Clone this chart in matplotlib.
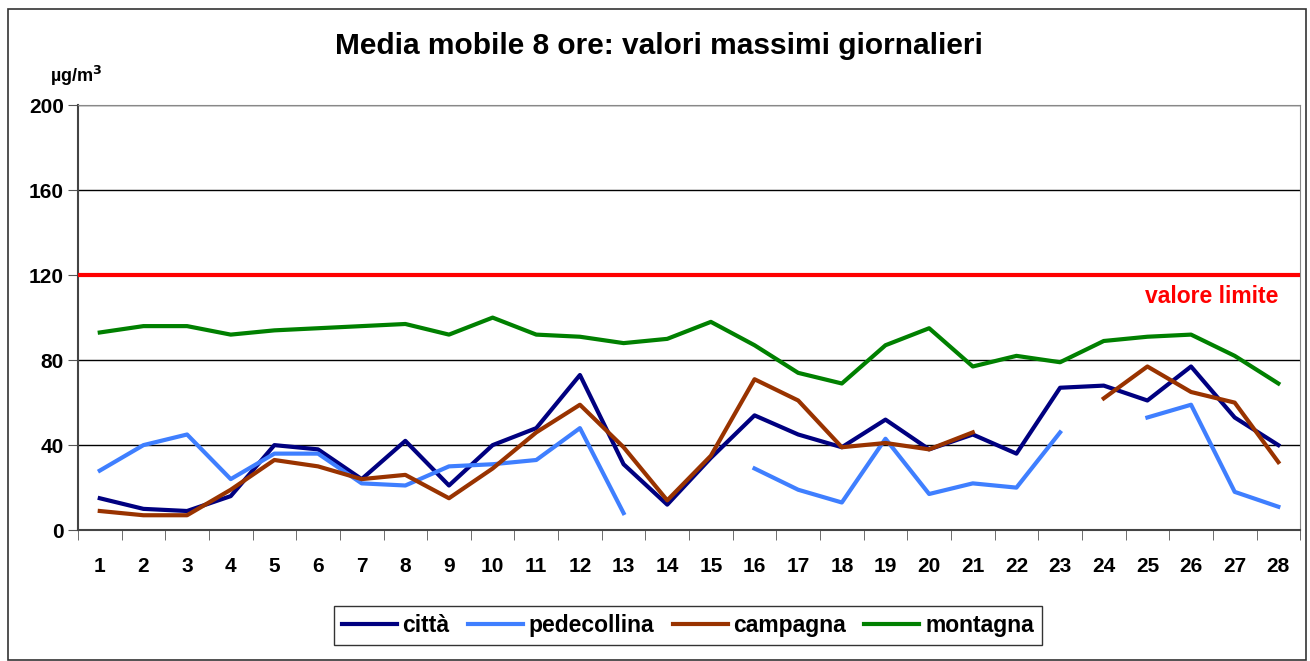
import numpy as np
import matplotlib
matplotlib.use("Agg")
import matplotlib.pyplot as plt
from matplotlib.patches import Rectangle

plt.rcParams['font.family'] = ['Liberation Sans', 'DejaVu Sans']
plt.rcParams['font.weight'] = 'bold'

nan = np.nan
giorni = list(range(1, 29))

citta = [15, 10, 9, 16, 40, 38, 24, 42, 21, 40, 48, 73, 31, 12, 34, 54, 45, 39,
         52, 38, 45, 36, 67, 68, 61, 77, 53, 40]
pedecollina = [28, 40, 45, 24, 36, 36, 22, 21, 30, 31, 33, 48, 8, nan, nan, 29, 19, 13,
               43, 17, 22, 20, 46, nan, 53, 59, 18, 11]
campagna = [9, 7, 7, 19, 33, 30, 24, 26, 15, 29, 46, 59, 39, 14, 35, 71, 61, 39,
            41, 38, 46, nan, nan, 62, 77, 65, 60, 32]
montagna = [93, 96, 96, 92, 94, 95, 96, 97, 92, 100, 92, 91, 88, 90, 98, 87, 74, 69,
            87, 95, 77, 82, 79, 89, 91, 92, 82, 69]
valore_limite = 120

fig = plt.figure(figsize=(13.1, 6.61), dpi=100)
ax = fig.add_axes([0.0595, 0.198, 0.933, 0.643])

ax.plot(giorni, citta, color='#000080', lw=3, label='città')
ax.plot(giorni, pedecollina, color='#3F7FFF', lw=3, label='pedecollina')
ax.plot(giorni, campagna, color='#993300', lw=3, label='campagna')
ax.plot(giorni, montagna, color='#008000', lw=3, label='montagna')
ax.axhline(valore_limite, color='#FF0000', lw=3, zorder=3)
ax.text(28.0, valore_limite - 4.5, 'valore limite', color='#FF0000', fontsize=16.5,
        fontweight='bold', ha='right', va='top')

ax.set_xlim(0.5, 28.5)
ax.set_ylim(0, 200)
ax.set_yticks([0, 40, 80, 120, 160, 200])
ax.set_xticks(giorni)
ax.set_xticks(np.arange(0.5, 29, 1), minor=True)
ax.tick_params(axis='x', which='major', length=0, pad=19, labelsize=15)
ax.tick_params(axis='x', which='minor', length=7, direction='out', color='#555555')
ax.tick_params(axis='y', length=7, direction='out', color='#555555', pad=3,
               labelsize=15)

ax.grid(axis='y', color='black', lw=1)
ax.set_axisbelow(True)
for s in ['top', 'right']:
    ax.spines[s].set_color('#888888')
for s in ['left', 'bottom']:
    ax.spines[s].set_color('#444444')
    ax.spines[s].set_linewidth(1.5)

fig.text(0.503, 0.931, 'Media mobile 8 ore: valori massimi giornalieri',
         ha='center', va='center', fontsize=21.5, fontweight='bold')
fig.text(0.058, 0.885, 'µg/m$^\\mathbf{3}$', ha='center', va='center', fontsize=13,
         fontweight='bold')

leg = fig.legend(loc='center', bbox_to_anchor=(0.525, 0.053), ncol=4, frameon=True,
                 fancybox=False, edgecolor='black', fontsize=16.5, handlelength=2.4,
                 handletextpad=0.25, columnspacing=0.8, borderpad=0.35)
leg.get_frame().set_linewidth(1)

fig.patches.append(Rectangle((0.006, 0.002), 0.991, 0.984, transform=fig.transFigure,
                             fill=False, edgecolor='#333333', lw=1.2))

fig.savefig('out.png', dpi=100)
